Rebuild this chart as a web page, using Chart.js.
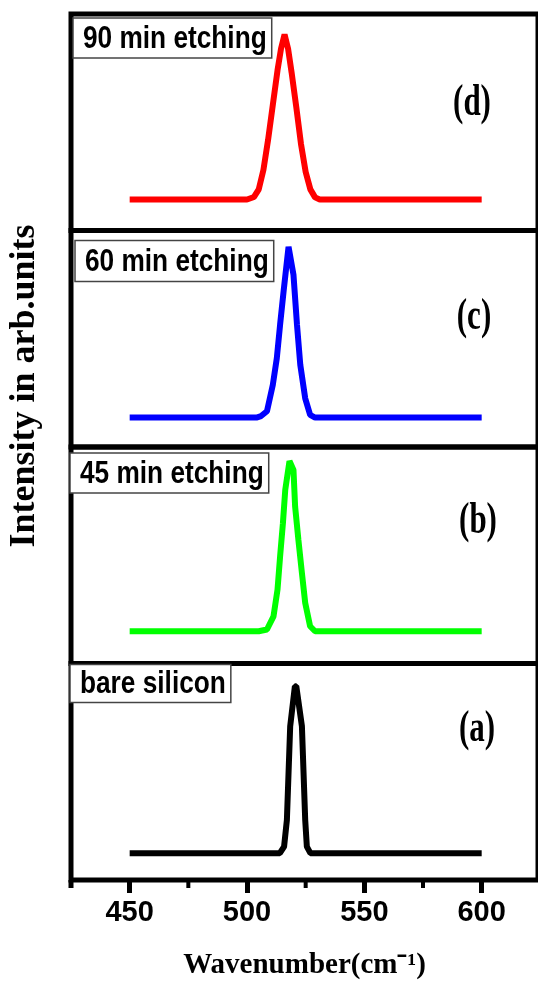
<!DOCTYPE html>
<html>
<head>
<meta charset="utf-8">
<script src="https://cdn.jsdelivr.net/npm/chart.js@4.4.1/dist/chart.umd.min.js"></script>
<style>
  html, body { margin: 0; padding: 0; background: #fff; }
  #raman { display: block; }
</style>
</head>
<body>
<canvas id="raman" width="538" height="982"></canvas>
<script>
// Raman spectra, one panel per sample, listed bottom -> top
const panelNames = ['bare silicon', '45 min etching', '60 min etching', '90 min etching'];
const panelTags = ['(a)', '(b)', '(c)', '(d)'];
const lineColors = ['#000000', '#00ff00', '#0000ff', '#ff0000'];

// (a) bare silicon
const waveA = [450, 514, 515.8, 517, 518.4, 520.4, 521.0, 523.4, 524.8, 525.5, 527, 600];
const intA  = [12.4, 12.4, 15.4, 27.8, 71, 89.5, 89.5, 71, 27.8, 15.4, 12.4, 12.4];
// (b) 45 min
const waveB = [450, 505, 508.5, 511.3, 513, 514.1, 515.3, 516.3, 518.1, 519.8, 520.5, 521.9, 523.4, 524.8, 526.9, 529, 600];
const intB  = [14.9, 14.9, 15.7, 21.8, 34.1, 49.4, 64.8, 80.2, 93.5, 89.4, 72.5, 57.1, 41.8, 28, 17.2, 14.9, 14.9];
// (c) 60 min
const waveC = [450, 504, 506, 508.5, 511, 512.7, 514.1, 515.6, 517.7, 519.8, 521.3, 522.7, 524.8, 526.9, 529, 600];
const intC  = [13.6, 13.6, 14.3, 16.5, 28.7, 41, 56.5, 72, 92.5, 79.6, 56.5, 38, 22.5, 14.8, 13.6, 13.6];
// (d) 90 min
const waveD = [450, 500, 503, 505, 507, 509, 511, 513, 514.5, 516, 517.5, 519, 521, 523, 525, 527, 529, 531, 600];
const intD  = [14.3, 14.3, 15.5, 19, 28, 42, 58, 74, 84, 90.5, 84, 73, 57, 40, 27, 19, 15.3, 14.3, 14.3];

const waves = [waveA, waveB, waveC, waveD];
const intensities = [intA, intB, intC, intD];

const majorTicks = [450, 500, 550, 600];
const minorTicks = [475, 525, 575];

const panelIds = ['yA', 'yB', 'yC', 'yD'];

// decoration placement (relative to each panel top)
const labelBoxes = [{ x: 70, dy: 1, h: 38 }, { x: 70, dy: 6, h: 40 }, { x: 75, dy: 10, h: 41 }, { x: 73, dy: 4, h: 40 }];
const tagSpots = [{ x: 477, dy: 66 }, { x: 478, dy: 75 }, { x: 474, dy: 87 }, { x: 472, dy: 90 }];

const sans = '"Liberation Sans", Arial, sans-serif';
const serif = '"Liberation Serif", "Times New Roman", serif';

function panelAxis() {
  return {
    type: 'linear',
    position: 'left',
    stack: 'panels',
    stackWeight: 1,
    min: 0,
    max: 100,
    ticks: { display: false },
    grid: { display: false },
    border: { display: false },
    afterFit: s => { s.width = 0; }
  };
}

const panelDecor = {
  id: 'panelDecor',
  afterDraw(chart) {
    const { ctx, chartArea, scales } = chart;
    const xs = scales.x;
    ctx.save();

    // frames
    ctx.strokeStyle = '#000';
    ctx.lineWidth = 5;
    panelIds.forEach(id => {
      const s = scales[id];
      ctx.strokeRect(chartArea.left, s.top, chartArea.right - chartArea.left, s.bottom - s.top);
    });
    // stub under the left frame + minor ticks
    ctx.beginPath();
    ctx.moveTo(chartArea.left, chartArea.bottom);
    ctx.lineTo(chartArea.left, chartArea.bottom + 8);
    ctx.stroke();
    ctx.lineWidth = 4;
    minorTicks.forEach(v => {
      const px = xs.getPixelForValue(v);
      ctx.beginPath();
      ctx.moveTo(px, chartArea.bottom);
      ctx.lineTo(px, chartArea.bottom + 8);
      ctx.stroke();
    });

    // sample labels in boxes (narrow bold sans)
    ctx.font = 'bold 32px ' + sans;
    ctx.textBaseline = 'middle';
    ctx.textAlign = 'left';
    panelIds.forEach((id, i) => {
      const s = scales[id];
      const b = labelBoxes[i];
      const tw = ctx.measureText(panelNames[i]).width * 0.82;
      const by = s.top + b.dy;
      ctx.fillStyle = '#fff';
      ctx.fillRect(b.x, by, tw + 15, b.h);
      ctx.strokeStyle = '#444';
      ctx.lineWidth = 1.5;
      ctx.strokeRect(b.x, by, tw + 15, b.h);
      ctx.save();
      ctx.translate(b.x + 10, by + b.h / 2 + 1);
      ctx.scale(0.82, 1);
      ctx.fillStyle = '#000';
      ctx.fillText(panelNames[i], 0, 0);
      ctx.restore();
    });

    // (a)..(d)
    panelIds.forEach((id, i) => {
      const s = scales[id];
      const t = tagSpots[i];
      ctx.save();
      ctx.translate(t.x, s.top + t.dy);
      ctx.scale(1, 1.4);
      ctx.font = 'bold 31px ' + serif;
      ctx.textAlign = 'center';
      ctx.textBaseline = 'middle';
      ctx.fillStyle = '#000';
      ctx.fillText(panelTags[i], 0, 0);
      ctx.restore();
    });

    // shared y title
    ctx.save();
    ctx.translate(25, 386);
    ctx.rotate(-Math.PI / 2);
    ctx.font = 'bold 36px ' + serif;
    ctx.textAlign = 'center';
    ctx.textBaseline = 'middle';
    ctx.fillStyle = '#000';
    ctx.fillText('Intensity in arb.units', 0, 0);
    ctx.restore();

    ctx.restore();
  }
};

const scales = {
  x: {
    type: 'linear',
    position: 'bottom',
    min: 425,
    max: 624,
    afterBuildTicks: s => { s.ticks = majorTicks.map(v => ({ value: v })); },
    afterFit: s => { s.height = 102; },
    border: { display: false },
    grid: { display: true, drawOnChartArea: false, drawTicks: true, tickLength: 13, tickWidth: 5, tickColor: '#000' },
    ticks: {
      color: '#000',
      padding: 3,
      autoSkip: false,
      maxRotation: 0,
      font: { family: sans, size: 29, weight: 'bold' }
    },
    title: {
      display: true,
      text: 'Wavenumber(cm\u207B\u00B9)',
      color: '#000',
      font: { family: serif, size: 29, weight: 'bold', lineHeight: 1 },
      padding: { top: 0, bottom: 2 }
    }
  }
};
panelIds.forEach(id => { scales[id] = panelAxis(); });

new Chart(document.getElementById('raman'), {
  type: 'line',
  data: {
    datasets: panelIds.map((id, i) => ({
      label: panelNames[i],
      data: waves[i].map((w, k) => ({ x: w, y: intensities[i][k] })),
      yAxisID: id,
      borderColor: lineColors[i],
      borderWidth: 6,
      borderJoinStyle: 'bevel',
      borderCapStyle: 'butt',
      pointRadius: 0,
      tension: 0,
      fill: false
    }))
  },
  options: {
    responsive: false,
    animation: false,
    devicePixelRatio: 1,
    layout: { padding: { left: 71, top: 14, right: 0, bottom: 0 } },
    plugins: {
      legend: { display: false },
      tooltip: { enabled: false }
    },
    scales: scales
  },
  plugins: [panelDecor]
});
</script>
</body>
</html>
